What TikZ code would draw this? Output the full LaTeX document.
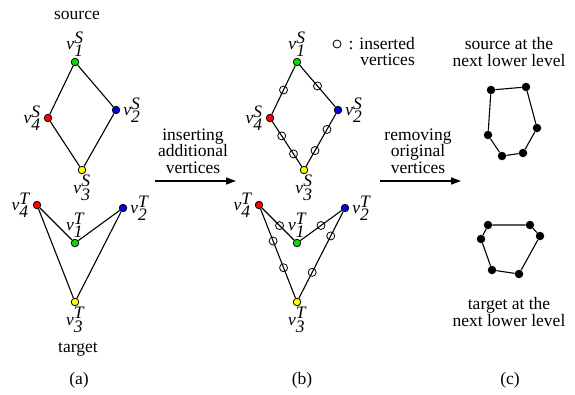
\documentclass[tikz,border=0pt]{standalone}
\usepackage{fontspec}
\setmainfont{Liberation Serif}
\usepackage{tikz}
\usetikzlibrary{arrows.meta,positioning}
\definecolor{vgreen}{RGB}{0,225,0}
\definecolor{vred}{RGB}{255,0,0}
\definecolor{vblue}{RGB}{0,0,235}
\definecolor{vyellow}{RGB}{255,255,0}
\newcommand{\vlab}[2]{\textit{v}$^{\textit{#2}}_{\textit{#1}}$}

\begin{document}
\begin{tikzpicture}[
  x=1pt,y=-1pt,
  every node/.style={font=\fontsize{17.5}{16.5}\selectfont},
  vtx/.style={circle,draw,line width=0.8pt,inner sep=0pt,minimum size=7.5pt},
  ins/.style={circle,draw,line width=0.8pt,inner sep=0pt,minimum size=8pt},
  dot/.style={circle,fill=black,inner sep=0pt,minimum size=8.5pt},
  txt/.style={align=center,inner sep=0pt},
  edge/.style={line width=1.1pt},
  arr/.style={-{Triangle[length=10pt,width=7pt]},line width=1.3pt}
]
  \useasboundingbox (0,0) rectangle (575,394);
  % (a) source
  \node[txt] (srca) at (77,15) {source};
  \node[vtx,fill=vgreen,label={[inner sep=1pt]above:\vlab{1}{S}}] (s1) at (75,62) {};
  \node[vtx,fill=vblue,label={[inner sep=3pt]right:\vlab{2}{S}}] (s2) at (116,110) {};
  \node[vtx,fill=vyellow,label={[inner sep=1pt]below:\vlab{3}{S}}] (s3) at (82,170) {};
  \node[vtx,fill=vred,label={[inner sep=3pt]left:\vlab{4}{S}}] (s4) at (48,118) {};
  \draw[edge] (s1) -- (s2) -- (s3) -- (s4) -- (s1);
  % (a) target
  \node[vtx,fill=vgreen,label={[inner sep=1pt]above:\vlab{1}{T}}] (t1) at (75,243) {};
  \node[vtx,fill=vblue,label={[inner sep=3pt]right:\vlab{2}{T}}] (t2) at (123,208) {};
  \node[vtx,fill=vyellow,label={[inner sep=1pt]below:\vlab{3}{T}}] (t3) at (75,302) {};
  \node[vtx,fill=vred,label={[inner sep=3pt]left:\vlab{4}{T}}] (t4) at (37,205) {};
  \draw[edge] (t1) -- (t2) -- (t3) -- (t4) -- (t1);
  \node[txt] (tgta) at (78,349) {target};
  \node[txt] (capa) at (79,380) {(a)};
  % Arrow 1
  \coordinate (a1s) at (155,181);
  \coordinate (a1e) at (236,181);
  \draw[arr] (a1s) -- (a1e);
  \node[txt] (ins) at (193,151) {inserting\\additional\\vertices};
  % (b) source
  \node[vtx,fill=vgreen,label={[inner sep=1pt]above:\vlab{1}{S}}] (bs1) at (297,62) {};
  \node[vtx,fill=vblue,label={[inner sep=3pt]right:\vlab{2}{S}}] (bs2) at (338,110) {};
  \node[vtx,fill=vyellow,label={[inner sep=1pt]below:\vlab{3}{S}}] (bs3) at (304,170) {};
  \node[vtx,fill=vred,label={[inner sep=3pt]left:\vlab{4}{S}}] (bs4) at (270,118) {};
  \draw[edge] (bs1) -- node[ins,pos=0.5] (bi1) {} (bs2);
  \draw[edge] (bs2) -- node[ins,pos=0.3] (bi2) {} node[ins,pos=0.7] (bi3) {} (bs3);
  \draw[edge] (bs3) -- node[ins,pos=0.28] (bi4) {} node[ins,pos=0.68] (bi5) {} (bs4);
  \draw[edge] (bs4) -- node[ins,pos=0.5] (bi6) {} (bs1);
  % legend
  \node[ins] (leg) at (337,44) {};
  \node[align=right,anchor=north east,inner sep=0pt] (legtxt) at (415,37) {: inserted\\vertices};
  % (b) target
  \node[vtx,fill=vgreen,label={[inner sep=1pt]above:\vlab{1}{T}}] (bt1) at (297,243) {};
  \node[vtx,fill=vblue,label={[inner sep=3pt]right:\vlab{2}{T}}] (bt2) at (345,208) {};
  \node[vtx,fill=vyellow,label={[inner sep=1pt]below:\vlab{3}{T}}] (bt3) at (297,302) {};
  \node[vtx,fill=vred,label={[inner sep=3pt]left:\vlab{4}{T}}] (bt4) at (259,205) {};
  \draw[edge] (bt4) -- node[ins,pos=0.55] (bj1) {} (bt1);
  \draw[edge] (bt1) -- node[ins,pos=0.5] (bj2) {} (bt2);
  \draw[edge] (bt2) -- node[ins,pos=0.28] (bj3) {} node[ins,pos=0.7] (bj4) {} (bt3);
  \draw[edge] (bt3) -- node[ins,pos=0.34] (bj5) {} node[ins,pos=0.64] (bj6) {} (bt4);
  \node[txt] (capb) at (302,380) {(b)};
  % Arrow 2
  \coordinate (a2s) at (380,181);
  \coordinate (a2e) at (461,181);
  \draw[arr] (a2s) -- (a2e);
  \node[txt] (rem) at (418,151) {removing\\original\\vertices};
  % (c) source
  \node[txt] (srcc) at (509,52) {source at the\\next lower level};
  \node[dot] (c1) at (491,90) {};
  \node[dot] (c2) at (526,87) {};
  \node[dot] (c3) at (537,128) {};
  \node[dot] (c4) at (523,153) {};
  \node[dot] (c5) at (502,156) {};
  \node[dot] (c6) at (488,135) {};
  \draw[edge] (c1) -- (c2) -- (c3) -- (c4) -- (c5) -- (c6) -- (c1);
  % (c) target
  \node[dot] (d1) at (488,225) {};
  \node[dot] (d2) at (530,225) {};
  \node[dot] (d3) at (540,236) {};
  \node[dot] (d4) at (519,274) {};
  \node[dot] (d5) at (492,270) {};
  \node[dot] (d6) at (481,239) {};
  \draw[edge] (d1) -- (d2) -- (d3) -- (d4) -- (d5) -- (d6) -- (d1);
  \node[txt] (tgtc) at (509,312) {target at the\\next lower level};
  \node[txt] (capc) at (510,380) {(c)};
\end{tikzpicture}
\end{document}
